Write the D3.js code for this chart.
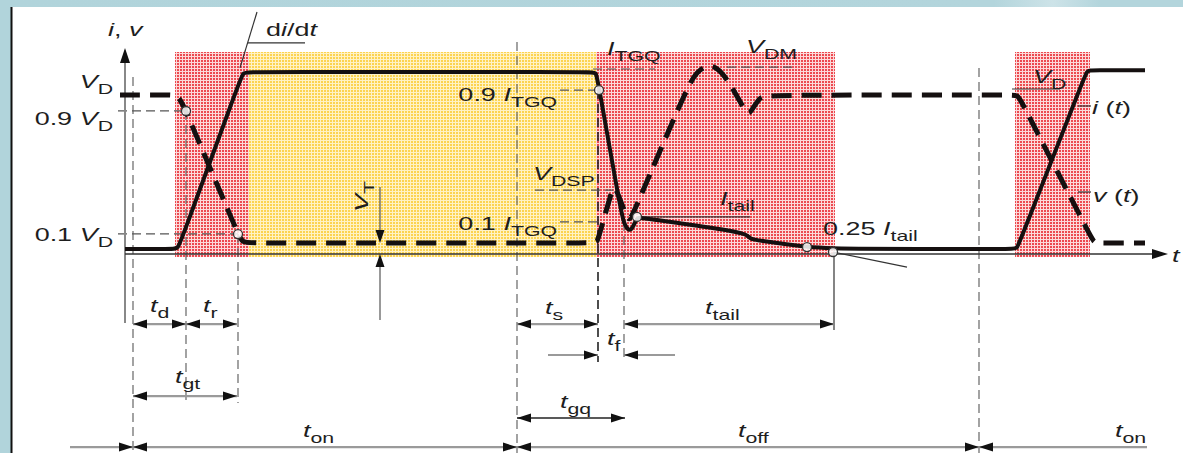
<!DOCTYPE html>
<html>
<head>
<meta charset="utf-8">
<title>GTO switching waveforms</title>
<script src="https://cdn.jsdelivr.net/npm/d3@7"></script>
<style>
  html, body { margin: 0; padding: 0; background: #fff; }
  svg { display: block; }
  text { font-family: "Liberation Sans", Arial, Helvetica, sans-serif; fill: #1e1e1e; }
</style>
</head>
<body>
<svg id="vis"></svg>
<script>
// time: arbitrary units from the i,v axis; levels normalised (current: 1 = on-state I, voltage: 1 = V_D)
// control points of the waveforms (drawn as a B-spline, so corners get slightly rounded)
const currentPts = [[0, 0], [4.7, 0], [5.3, 0], [5.7, 0.062], [11.4, 0.938], [11.8, 1], [12.4, 1],
  [46.8, 1], [47.1, 1], [47.35, 0.93], [49.5, 0.24], [49.9, 0.14], [50.4, 0.1], [50.8, 0.12], [51.2, 0.181],
  [51.6, 0.176], [61.8, 0.096], [62.2, 0.075], [62.6, 0.058], [63.0, 0.05], [68.2, 0.011], [70.8, 0],
  [88.8, 0], [89.2, 0], [89.6, 0.06], [95.8, 0.95], [96.2, 1.01], [96.7, 1.01], [102.0, 1.01]];
const voltagePts = [[-0.5, 1], [4.4, 1], [5.4, 1], [6.2, 0.878], [11.1, 0.13], [11.7, 0.039], [12.5, 0.039],
  [46.9, 0.039], [47.2, 0.039], [47.6, 0.13], [48.6, 0.36], [48.9, 0.41], [49.3, 0.36], [50.2, 0.2],
  [50.5, 0.19], [50.9, 0.24], [56.0, 1.02], [57.2, 1.16], [58.5, 1.2], [59.6, 1.16], [61.0, 1.02],
  [62.2, 0.87], [62.6, 0.89], [63.5, 0.99], [64.3, 1], [88.7, 1], [89.3, 1], [89.8, 0.937], [96.4, 0.102],
  [96.9, 0.039], [97.5, 0.039], [102.0, 0.039]];

// switching intervals that are shaded [start, end, kind]
const shading = [[5.0, 12.4, "red"], [12.4, 47.1, "yellow"], [47.1, 71.0, "red"], [89.0, 96.5, "red"]];
const shadeTop = 1.113, shadeBottom = -0.045;

// open circles: on the voltage (v scale) and on the current (i scale)
const markersV = [[6.1, 0.896], [11.3, 0.097]];
const markersI = [[47.4, 0.898], [51.2, 0.181], [68.2, 0.011], [70.8, -0.017]];

// dashed guides, levels on the current scale
const vGuides = [[0.8, 0.972, -1.153], [6.1, 0.78, -0.87], [11.3, 0.085, -0.87], [39.2, 1.169, -1.153],
  [47.3, 0.898, -0.638], [49.9, 0.153, -0.638], [85.4, 1.023, -1.153]];
const hGuides = [[-0.7, 6.1, 0.780], [-0.7, 11.3, 0.085], [43.5, 47.2, 0.898], [43.5, 47.2, 0.153],
  [41.0, 48.8, 0.333], [46.8, 53.0, 1.017], [60.2, 66.8, 1.028]];
// thin solid leaders
const leaders = [
  [[13.2, 1.339], [11.5, 1.023]], [[12.3, 1.164], [18.0, 1.164]],
  [[51.3, 0.181], [62.5, 0.181]], [[70.8, -0.017], [78.2, -0.102]], [[70.9, -0.017], [70.9, -0.458]],
  [[95.3, 0.808], [96.6, 0.808]], [[95.3, 0.322], [96.6, 0.322]], [[88.7, 0.904], [93.5, 0.904]]
];

// dimension arrows: [t0, t1, level, heads, dark]
const dims = [
  [0.8, 6.1, -0.424, "LR"], [6.1, 11.2, -0.424, "LR"], [39.2, 47.3, -0.424, "LR"], [49.9, 70.9, -0.424, "LR"],
  [42.3, 47.3, -0.599, "R"], [49.9, 55.0, -0.599, "L"],
  [0.8, 11.2, -0.831, "LR"], [39.2, 50.0, -0.955, "LR", true],
  [-5.5, 0.8, -1.119, "R"], [0.8, 39.2, -1.119, "LR"], [39.2, 85.4, -1.119, "LR"], [85.4, 102.2, -1.119, "L"]
];
const vtArrow = { t: 25.5, top: 0.350, tipTop: 0.034, bottom: -0.401, tipBottom: -0.028 };

// labels: parts [text, style], t, level, anchor, rotate
const labels = [
  [[["i", "i"], [", "], ["v", "i"]], -1.7, 1.203, "start"],
  [[["d"], ["i", "i"], ["/d"], ["t", "i"]], 14.1, 1.203, "start"],
  [[["V", "i"], ["D", "s"]], -1.2, 0.910, "end"],
  [[["0.9 "], ["V", "i"], ["D", "s"]], -1.2, 0.701, "end"],
  [[["0.1 "], ["V", "i"], ["D", "s"]], -1.2, 0.045, "end"],
  [[["V", "i"], ["T", "s"]], 24.3, 0.209, "start", -90],
  [[["0.9 "], ["I", "i"], ["TGQ", "s"]], 43.2, 0.836, "end"],
  [[["0.1 "], ["I", "i"], ["TGQ", "s"]], 43.2, 0.107, "end"],
  [[["V", "i"], ["DSP", "s"]], 40.8, 0.390, "start"],
  [[["I", "i"], ["TGQ", "s"]], 48.2, 1.096, "start"],
  [[["V", "i"], ["DM", "s"]], 62.1, 1.107, "start"],
  [[["I", "i"], ["tail", "s"]], 59.5, 0.249, "start"],
  [[["0.25 "], ["I", "i"], ["tail", "s"]], 69.8, 0.079, "start"],
  [[["V", "i"], ["D", "s"]], 90.8, 0.938, "start"],
  [[["i", "i"], [" ("], ["t", "i"], [")"]], 96.7, 0.763, "start"],
  [[["v", "i"], [" ("], ["t", "i"], [")"]], 96.8, 0.266, "start"],
  [[["t", "i"]], 104.7, -0.073, "start"],
  [[["t", "i"], ["d", "s"]], 2.5, -0.356, "start"],
  [[["t", "i"], ["r", "s"]], 7.8, -0.356, "start"],
  [[["t", "i"], ["gt", "s"]], 5.0, -0.757, "start"],
  [[["t", "i"], ["on", "s"]], 17.8, -1.062, "start"],
  [[["t", "i"], ["s", "s"]], 42.0, -0.367, "start"],
  [[["t", "i"], ["f", "s"]], 48.2, -0.542, "start"],
  [[["t", "i"], ["tail", "s"]], 58.0, -0.367, "start"],
  [[["t", "i"], ["gq", "s"]], 43.5, -0.898, "start"],
  [[["t", "i"], ["off", "s"]], 61.3, -1.062, "start"],
  [[["t", "i"], ["on", "s"]], 99.0, -1.062, "start"]
];

const width = 1183, height = 453;
const svg = d3.select("#vis").attr("width", width).attr("height", height);

const x = d3.scaleLinear().domain([0, 104.3]).range([125, 1168]);
const yI = d3.scaleLinear().domain([0, 1]).range([249, 72]);
const yV = d3.scaleLinear().domain([0, 1]).range([249, 95]);

// frame of the slide
const defs = svg.append("defs");
const grad = defs.append("linearGradient").attr("id", "topbar");
grad.append("stop").attr("offset", "0%").attr("stop-color", "#b1d4db");
grad.append("stop").attr("offset", "84%").attr("stop-color", "#b3d5dc");
grad.append("stop").attr("offset", "89%").attr("stop-color", "#cde3e8");
grad.append("stop").attr("offset", "93%").attr("stop-color", "#b3d5dc");
svg.append("rect").attr("width", width).attr("height", 7).attr("fill", "url(#topbar)");
svg.append("rect").attr("width", 11).attr("height", height).attr("fill", "#b1d4db");
svg.append("line").attr("x1", 11.5).attr("x2", 11.5).attr("y1", 7).attr("y2", height)
  .attr("stroke", "#111").attr("stroke-width", 2);

// dithered fills
function pattern(id, dark, light) {
  const p = defs.append("pattern").attr("id", id).attr("patternUnits", "userSpaceOnUse")
    .attr("width", 3).attr("height", 3);
  p.append("rect").attr("width", 3).attr("height", 3).attr("fill", light);
  p.append("rect").attr("width", 2).attr("height", 2).attr("fill", dark);
}
pattern("dotRed", "#ec4a50", "#fcd9da");
pattern("dotYellow", "#fcd350", "#fff2c4");

svg.append("g").selectAll("rect").data(shading).join("rect")
  .attr("x", d => x(d[0])).attr("width", d => x(d[1]) - x(d[0]))
  .attr("y", yI(shadeTop)).attr("height", yI(shadeBottom) - yI(shadeTop))
  .attr("fill", d => d[2] === "red" ? "url(#dotRed)" : "url(#dotYellow)");

function head(g, px, py, dir, len = 14, hw = 4.5) {
  let pts;
  if (dir === "R") pts = [[px, py], [px - len, py - hw], [px - len, py + hw]];
  else if (dir === "L") pts = [[px, py], [px + len, py - hw], [px + len, py + hw]];
  else if (dir === "U") pts = [[px, py], [px - hw, py + len], [px + hw, py + len]];
  else pts = [[px, py], [px - hw, py - len], [px + hw, py - len]];
  g.append("path").attr("d", "M" + pts.join("L") + "Z").attr("fill", "#111");
}

// guides
const guides = svg.append("g").attr("stroke", "#555").attr("stroke-width", 1.2).attr("fill", "none");
guides.selectAll("line.v").data(vGuides).join("line").attr("class", "v")
  .attr("x1", d => x(d[0])).attr("x2", d => x(d[0]))
  .attr("y1", d => yI(d[1])).attr("y2", d => yI(d[2]))
  .attr("stroke-dasharray", "9,5")
  .attr("stroke", d => d[0] === 47.3 ? "#222" : "#666")
  .attr("stroke-width", d => d[0] === 47.3 ? 1.6 : 1.2);
guides.selectAll("line.h").data(hGuides).join("line").attr("class", "h")
  .attr("x1", d => x(d[0])).attr("x2", d => x(d[1]))
  .attr("y1", d => yI(d[2])).attr("y2", d => yI(d[2]))
  .attr("stroke-dasharray", "9,5");
guides.selectAll("line.l").data(leaders).join("line").attr("class", "l")
  .attr("x1", d => x(d[0][0])).attr("x2", d => x(d[1][0]))
  .attr("y1", d => yI(d[0][1])).attr("y2", d => yI(d[1][1]))
  .attr("stroke", "#333");

// axes
const axes = svg.append("g");
axes.append("line").attr("x1", x(0)).attr("x2", x(0)).attr("y1", yI(-0.418)).attr("y2", yI(1.12))
  .attr("stroke", "#888").attr("stroke-width", 2);
head(axes, x(0), yI(1.135), "U", 15, 5);
axes.append("line").attr("x1", x(0)).attr("x2", x(103.5)).attr("y1", yI(-0.028)).attr("y2", yI(-0.028))
  .attr("stroke", "#333").attr("stroke-width", 1.5);
head(axes, x(104.3), yI(-0.028), "R", 16, 5);

// dimension arrows
const dimG = svg.append("g");
dims.forEach(d => {
  dimG.append("line").attr("x1", x(d[0])).attr("x2", x(d[1])).attr("y1", yI(d[2])).attr("y2", yI(d[2]))
    .attr("stroke", d[4] ? "#222" : "#9a9a9a").attr("stroke-width", d[4] ? 1.5 : 2.2);
  if (d[3].includes("L")) head(dimG, x(d[0]), yI(d[2]), "L");
  if (d[3].includes("R")) head(dimG, x(d[1]), yI(d[2]), "R");
});
dimG.append("line").attr("x1", x(vtArrow.t)).attr("x2", x(vtArrow.t))
  .attr("y1", yI(vtArrow.top)).attr("y2", yI(vtArrow.tipTop) - 10).attr("stroke", "#555").attr("stroke-width", 1.2);
head(dimG, x(vtArrow.t), yI(vtArrow.tipTop), "D", 13, 4.5);
dimG.append("line").attr("x1", x(vtArrow.t)).attr("x2", x(vtArrow.t))
  .attr("y1", yI(vtArrow.bottom)).attr("y2", yI(vtArrow.tipBottom) + 10).attr("stroke", "#555").attr("stroke-width", 1.2);
head(dimG, x(vtArrow.t), yI(vtArrow.tipBottom), "U", 13, 4.5);

// waveforms
const lineI = d3.line().x(d => x(d[0])).y(d => yI(d[1])).curve(d3.curveBasis);
const lineV = d3.line().x(d => x(d[0])).y(d => yV(d[1])).curve(d3.curveBasis);
svg.append("path").attr("d", lineV(voltagePts)).attr("fill", "none")
  .attr("stroke", "#151010").attr("stroke-width", 5).attr("stroke-dasharray", "20,10");
svg.append("path").attr("d", lineI(currentPts)).attr("fill", "none")
  .attr("stroke", "#151010").attr("stroke-width", 4).attr("stroke-linejoin", "round");

const marks = svg.append("g").attr("fill", "#fff").attr("fill-opacity", 0.85)
  .attr("stroke", "#333").attr("stroke-width", 1.3);
marks.selectAll("circle.v").data(markersV).join("circle").attr("class", "v")
  .attr("cx", d => x(d[0])).attr("cy", d => yV(d[1])).attr("r", 4.5);
marks.selectAll("circle.i").data(markersI).join("circle").attr("class", "i")
  .attr("cx", d => x(d[0])).attr("cy", d => yI(d[1])).attr("r", 4.5);

// text (the source lettering is drawn wide, hence the horizontal stretch)
const stretch = 1.42;
const textG = svg.append("g");
labels.forEach(([parts, t, lv, anchor, rot]) => {
  const px = x(t), py = yI(lv);
  const txt = textG.append("text").attr("x", 0).attr("y", 0)
    .attr("text-anchor", anchor).attr("font-size", 19)
    .attr("transform", `translate(${px},${py}) rotate(${rot || 0}) scale(${stretch},1)`);
  let shifted = false;
  parts.forEach(([s, style]) => {
    const sp = txt.append("tspan").text(s);
    if (style === "i") sp.attr("font-style", "italic");
    if (style === "s") {
      sp.attr("font-size", 15);
      if (!shifted) { sp.attr("dy", 6); shifted = true; }
    } else if (shifted) { sp.attr("dy", -6); shifted = false; }
  });
});
</script>
</body>
</html>
